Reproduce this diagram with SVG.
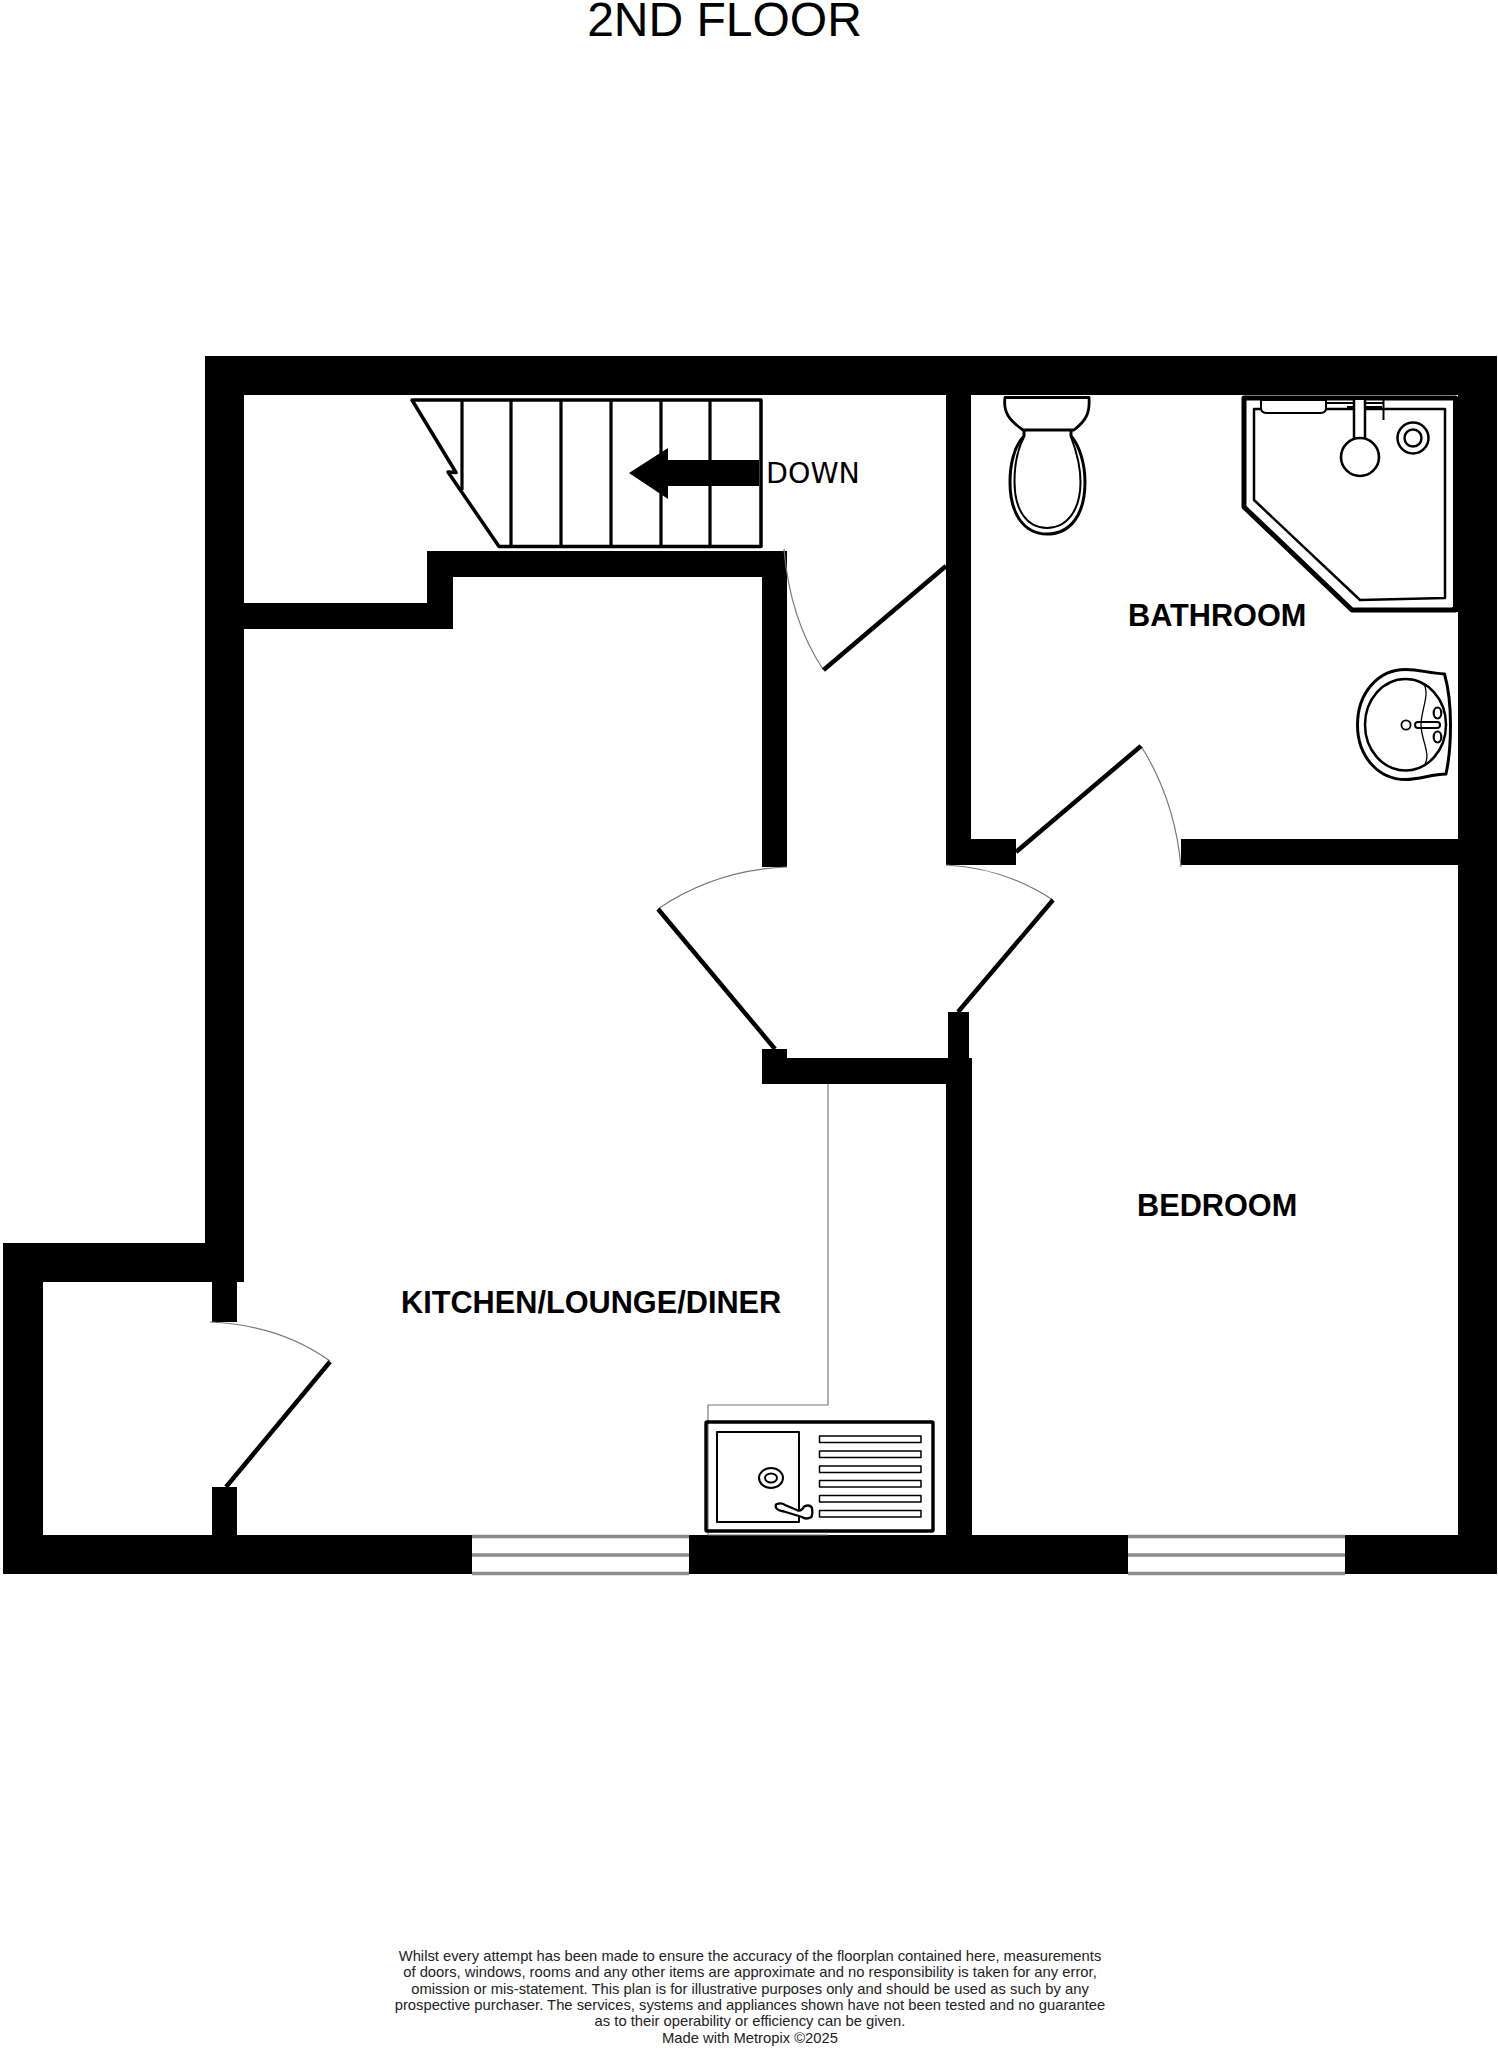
<svg xmlns="http://www.w3.org/2000/svg" width="1498" height="2048" viewBox="0 0 1498 2048">
<style>
.wall{fill:#000}
.leaf{stroke:#000;stroke-width:4.5;fill:none}
.arc{stroke:#777;stroke-width:1.2;fill:none}
.line{stroke:#000;fill:none;stroke-linejoin:round}
.win{stroke:#8a8a8a;stroke-width:3.5}
.label{font-family:"Liberation Sans",Arial,sans-serif;font-weight:700;font-size:30.7px;fill:#000}
.note{font-family:"Liberation Sans",Arial,sans-serif;font-size:14.78px;fill:#222;text-anchor:middle}
</style>
<rect width="1498" height="2048" fill="#fff"/>
<text id="title" x="724.5" y="36" text-anchor="middle" font-family="Liberation Sans, Arial, sans-serif" font-size="48">2ND FLOOR</text>
<g id="walls">
<rect class="wall" x="205" y="356" width="1292" height="39"/>
<rect class="wall" x="205" y="356" width="39" height="926"/>
<rect class="wall" x="1458" y="356" width="39" height="1218"/>
<rect class="wall" x="946" y="356" width="25" height="509"/>
<rect class="wall" x="946" y="839" width="70" height="26"/>
<rect class="wall" x="1181" y="839" width="277" height="26"/>
<rect class="wall" x="427" y="551" width="360" height="26"/>
<rect class="wall" x="427" y="551" width="26" height="78"/>
<rect class="wall" x="244" y="603" width="209" height="26"/>
<rect class="wall" x="762" y="551" width="25" height="316"/>
<rect class="wall" x="762" y="1049" width="25" height="34"/>
<rect class="wall" x="762" y="1058" width="210" height="26"/>
<rect class="wall" x="948" y="1012" width="21" height="50"/>
<rect class="wall" x="946" y="1058" width="26" height="516"/>
<rect class="wall" x="3" y="1243" width="241" height="39"/>
<rect class="wall" x="3" y="1243" width="40" height="331"/>
<rect class="wall" x="212" y="1282" width="25" height="40"/>
<rect class="wall" x="212" y="1487" width="25" height="50"/>
<rect class="wall" x="3" y="1535" width="469" height="39"/>
<rect class="wall" x="689" y="1535" width="439" height="39"/>
<rect class="wall" x="1345" y="1535" width="152" height="39"/>
</g>
<g id="windows">
<path class="win" d="M472 1536.5H689M472 1555H689M472 1573.5H689"/>
<path class="win" d="M1128 1536.5H1345M1128 1555H1345M1128 1573.5H1345"/>
</g>
<g id="doors">
<path class="arc" d="M784 549Q790 620 823.5 670"/>
<path class="leaf" d="M823.5 670L946 566"/>
<path class="arc" d="M1141 746Q1175 800 1181 867"/>
<path class="leaf" d="M1016 852L1141 746"/>
<path class="arc" d="M787 867Q715 870 658 909"/>
<path class="leaf" d="M658 909L775 1049"/>
<path class="arc" d="M946 865Q1005 868 1053 900"/>
<path class="leaf" d="M1053 900L958 1012"/>
<path class="arc" d="M210 1322Q280 1325 330 1361"/>
<path class="leaf" d="M330 1361.7L226 1487"/>
</g>
<g id="stairs">
<path class="line" stroke-width="3.5" d="M761 400H412L456 472.5L448 472L499 546.5H761Z"/>
<path class="line" stroke-width="3.2" d="M462 400V490M511 400V546M561 400V546M611 400V546M661 400V546M710 400V546"/>
<path class="wall" d="M759 460H668V448L629 473L668 499V486H759Z"/>
<text x="766" y="483" font-family="DejaVu Sans, sans-serif" font-size="28.5">DOWN</text>
</g>
<g id="wc">
<path class="line" stroke-width="2.8" d="M1005 397.5H1089C1090 412 1087 420 1074 430H1023C1009 420 1003 412 1005 397.5Z"/>
<path class="line" stroke-width="3" d="M1024 431V436C1014 446 1010 465 1010 482C1010 514 1024 534 1047 534C1071 534 1085 514 1085 482C1085 465 1080 446 1071 436V431"/>
<path class="line" stroke-width="2" d="M1024 437C1017 450 1014.5 465 1014.5 482C1014.5 510 1027 528 1047 528C1067 528 1080.5 510 1080.5 482C1080.5 465 1076 450 1071 437"/>
</g>
<g id="shower">
<path class="line" stroke-width="5" d="M1244 398H1455.5V610H1352L1244 507Z"/>
<path d="M1452 609.5H1458" stroke="#000" stroke-width="5"/>
<path class="line" stroke-width="2.5" d="M1254 409H1445V598L1360 600L1254 500Z"/>
<path d="M1261 400H1326V408Q1326 413 1320 413H1267Q1261 413 1261 408Z" fill="#fff" stroke="#000" stroke-width="2"/>
<path class="line" stroke-width="2" d="M1326 403H1384M1347 407H1382M1383.5 400V420"/>
<rect x="1354" y="400" width="11" height="39" fill="#fff"/>
<path class="line" stroke-width="2.5" d="M1354 400V439M1365 400V439"/>
<circle cx="1360" cy="457" r="19" fill="#fff" stroke="#000" stroke-width="2.6"/>
<circle class="line" stroke-width="2.5" cx="1413" cy="438" r="15.5"/>
<circle class="line" stroke-width="2.5" cx="1413" cy="438" r="8.5"/>
</g>
<g id="basin">
<path class="line" stroke-width="3" d="M1405.5 669.5C1420 669.5 1428 673 1444.5 674C1449 690 1450.5 710 1450.5 725C1450.5 745 1449 760 1446 774C1432 774 1420 779.5 1405.5 779.5C1378 779.5 1357.5 756 1357.5 725C1357.5 693 1378 669.5 1405.5 669.5Z"/>
<ellipse class="line" stroke-width="2.5" cx="1405.5" cy="724.7" rx="40.5" ry="45.8"/>
<path class="line" stroke-width="1.3" d="M1424 684C1430 695 1421 710 1421 725C1421 740 1432 755 1424 766"/>
<circle class="line" stroke-width="1.8" cx="1406" cy="725" r="4.6"/>
<rect class="line" stroke-width="2" x="1415" y="722" width="25" height="6" rx="3" fill="#fff"/>
<ellipse class="line" stroke-width="2.2" cx="1437.5" cy="713" rx="3.8" ry="5.5" fill="#fff"/>
<ellipse class="line" stroke-width="2.2" cx="1437.5" cy="737" rx="3.8" ry="5.5" fill="#fff"/>
</g>
<g id="sink">
<path d="M828 1084V1405H708V1535H828" fill="none" stroke="#777" stroke-width="1.2"/>
<rect class="line" stroke-width="3.4" x="706" y="1422" width="227" height="109" rx="1" fill="#fff"/>
<rect class="line" stroke-width="2" x="717" y="1432" width="82" height="90"/>
<ellipse class="line" stroke-width="2" cx="771" cy="1478" rx="12" ry="10"/>
<ellipse class="line" stroke-width="2" cx="771" cy="1478" rx="6" ry="4.5"/>
<g class="line" stroke-width="1.5">
<rect x="819.5" y="1436" width="101.5" height="6.5"/>
<rect x="819.5" y="1451" width="101.5" height="6.5"/>
<rect x="819.5" y="1466" width="101.5" height="6.5"/>
<rect x="819.5" y="1480.5" width="101.5" height="6.5"/>
<rect x="819.5" y="1495.5" width="101.5" height="6.5"/>
<rect x="819.5" y="1510.5" width="101.5" height="6.5"/>
</g>
<path d="M776 1504.5Q781 1502 785 1505L798 1510.5Q802 1511 804 1506.5Q810 1504 812 1508Q813 1513 811.5 1517Q806 1520 802 1517L784 1511.5Q774 1510 776 1504.5Z" fill="#fff" stroke="#000" stroke-width="2.3" stroke-linejoin="round"/>
</g>
<g id="labels">
<text class="label" x="1128" y="626">BATHROOM</text>
<text class="label" x="1137" y="1216">BEDROOM</text>
<text class="label" x="401" y="1313">KITCHEN/LOUNGE/DINER</text>
</g>
<g id="disclaimer">
<text class="note" x="750" y="1961">Whilst every attempt has been made to ensure the accuracy of the floorplan contained here, measurements</text>
<text class="note" x="750" y="1977">of doors, windows, rooms and any other items are approximate and no responsibility is taken for any error,</text>
<text class="note" x="750" y="1994">omission or mis-statement. This plan is for illustrative purposes only and should be used as such by any</text>
<text class="note" x="750" y="2010">prospective purchaser. The services, systems and appliances shown have not been tested and no guarantee</text>
<text class="note" x="750" y="2026">as to their operability or efficiency can be given.</text>
<text class="note" x="750" y="2043">Made with Metropix ©2025</text>
</g>
</svg>
